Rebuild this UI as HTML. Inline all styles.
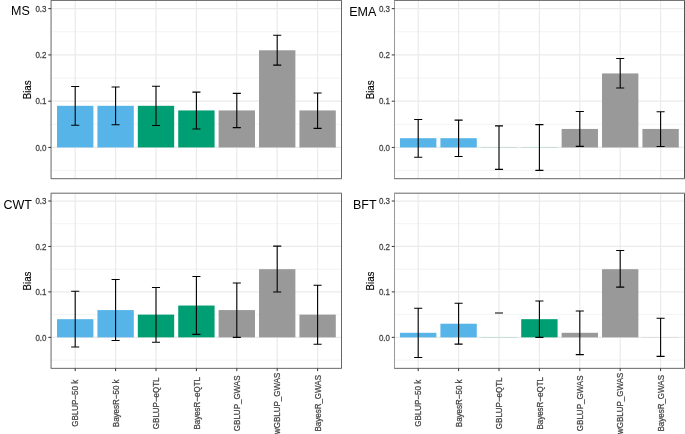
<!DOCTYPE html>
<html><head><meta charset="utf-8"><style>
html,body{margin:0;padding:0;background:#fff;}
svg{display:block;will-change:transform;}
text{font-family:"Liberation Sans",sans-serif;}
.ax{font-size:8.7px;fill:#444;stroke:#444;stroke-width:0.25px;}
.ti{font-size:10.2px;fill:#000;stroke:#000;stroke-width:0.15px;}
.tag{font-size:12.5px;fill:#000;}
</style></head><body>
<svg width="685" height="434" viewBox="0 0 685 434">
<defs><clipPath id="cMS"><rect x="51.06" y="0.4" width="290.44" height="178.3"/></clipPath><clipPath id="cEMA"><rect x="394.5" y="0.4" width="290" height="178.3"/></clipPath><clipPath id="cCWT"><rect x="51.06" y="193.2" width="290.44" height="175.15"/></clipPath><clipPath id="cBFT"><rect x="394.5" y="193.2" width="290" height="175.15"/></clipPath></defs>
<rect width="685" height="434" fill="#fff"/>
<g clip-path="url(#cMS)">
<line x1="51.06" x2="341.5" y1="170.58" y2="170.58" stroke="#EBEBEB" stroke-width="0.62"/>
<line x1="51.06" x2="341.5" y1="124.31" y2="124.31" stroke="#EBEBEB" stroke-width="0.62"/>
<line x1="51.06" x2="341.5" y1="78.04" y2="78.04" stroke="#EBEBEB" stroke-width="0.62"/>
<line x1="51.06" x2="341.5" y1="31.77" y2="31.77" stroke="#EBEBEB" stroke-width="0.62"/>
<line x1="51.06" x2="341.5" y1="147.45" y2="147.45" stroke="#EBEBEB" stroke-width="1.25"/>
<line x1="51.06" x2="341.5" y1="101.18" y2="101.18" stroke="#EBEBEB" stroke-width="1.25"/>
<line x1="51.06" x2="341.5" y1="54.91" y2="54.91" stroke="#EBEBEB" stroke-width="1.25"/>
<line x1="51.06" x2="341.5" y1="8.64" y2="8.64" stroke="#EBEBEB" stroke-width="1.25"/>
<line x1="75.2" x2="75.2" y1="0.4" y2="178.7" stroke="#EBEBEB" stroke-width="1.25"/>
<line x1="115.6" x2="115.6" y1="0.4" y2="178.7" stroke="#EBEBEB" stroke-width="1.25"/>
<line x1="156" x2="156" y1="0.4" y2="178.7" stroke="#EBEBEB" stroke-width="1.25"/>
<line x1="196.4" x2="196.4" y1="0.4" y2="178.7" stroke="#EBEBEB" stroke-width="1.25"/>
<line x1="236.8" x2="236.8" y1="0.4" y2="178.7" stroke="#EBEBEB" stroke-width="1.25"/>
<line x1="277.2" x2="277.2" y1="0.4" y2="178.7" stroke="#EBEBEB" stroke-width="1.25"/>
<line x1="317.6" x2="317.6" y1="0.4" y2="178.7" stroke="#EBEBEB" stroke-width="1.25"/>
<rect x="57.02" y="105.81" width="36.36" height="41.64" fill="#56B4E9"/>
<rect x="97.42" y="105.81" width="36.36" height="41.64" fill="#56B4E9"/>
<rect x="137.82" y="105.81" width="36.36" height="41.64" fill="#009E73"/>
<rect x="178.22" y="110.43" width="36.36" height="37.02" fill="#009E73"/>
<rect x="218.62" y="110.43" width="36.36" height="37.02" fill="#999999"/>
<rect x="259.02" y="50.28" width="36.36" height="97.17" fill="#999999"/>
<rect x="299.42" y="110.43" width="36.36" height="37.02" fill="#999999"/>
<path d="M71.16 86.47H79.24M75.2 86.47V125.24M71.16 125.24H79.24" stroke="#000" stroke-width="1.1" fill="none"/>
<path d="M111.56 87.07H119.64M115.6 87.07V124.82M111.56 124.82H119.64" stroke="#000" stroke-width="1.1" fill="none"/>
<path d="M151.96 86.28H160.04M156 86.28V125.43M151.96 125.43H160.04" stroke="#000" stroke-width="1.1" fill="none"/>
<path d="M192.36 92.16H200.44M196.4 92.16V129.03M192.36 129.03H200.44" stroke="#000" stroke-width="1.1" fill="none"/>
<path d="M232.76 93.36H240.84M236.8 93.36V127.6M232.76 127.6H240.84" stroke="#000" stroke-width="1.1" fill="none"/>
<path d="M273.16 35.29H281.24M277.2 35.29V65.09M273.16 65.09H281.24" stroke="#000" stroke-width="1.1" fill="none"/>
<path d="M313.56 92.99H321.64M317.6 92.99V128.34M313.56 128.34H321.64" stroke="#000" stroke-width="1.1" fill="none"/>
</g>
<line x1="50.69" x2="341.88" y1="0.4" y2="0.4" stroke="#333" stroke-width="0.75"/>
<line x1="50.69" x2="341.88" y1="178.7" y2="178.7" stroke="#333" stroke-width="0.75"/>
<line x1="51.06" x2="51.06" y1="0.78" y2="178.32" stroke="#333" stroke-width="0.75"/>
<line x1="341.5" x2="341.5" y1="0.78" y2="178.32" stroke="#333" stroke-width="0.75"/>
<line x1="48.31" x2="51.06" y1="147.45" y2="147.45" stroke="#333333" stroke-width="1.0"/>
<text transform="translate(46.5,151) scale(0.92,1)" text-anchor="end" class="ax">0.0</text>
<line x1="48.31" x2="51.06" y1="101.18" y2="101.18" stroke="#333333" stroke-width="1.0"/>
<text transform="translate(46.5,104) scale(0.92,1)" text-anchor="end" class="ax">0.1</text>
<line x1="48.31" x2="51.06" y1="54.91" y2="54.91" stroke="#333333" stroke-width="1.0"/>
<text transform="translate(46.5,58) scale(0.92,1)" text-anchor="end" class="ax">0.2</text>
<line x1="48.31" x2="51.06" y1="8.64" y2="8.64" stroke="#333333" stroke-width="1.0"/>
<text transform="translate(46.5,12) scale(0.92,1)" text-anchor="end" class="ax">0.3</text>
<text transform="translate(30.66,89.85) rotate(-90) scale(0.96,1)" text-anchor="middle" class="ti">Bias</text>
<text x="11" y="14.85" class="tag">MS</text>
<g clip-path="url(#cEMA)">
<line x1="394.5" x2="684.5" y1="170.58" y2="170.58" stroke="#EBEBEB" stroke-width="0.62"/>
<line x1="394.5" x2="684.5" y1="124.31" y2="124.31" stroke="#EBEBEB" stroke-width="0.62"/>
<line x1="394.5" x2="684.5" y1="78.04" y2="78.04" stroke="#EBEBEB" stroke-width="0.62"/>
<line x1="394.5" x2="684.5" y1="31.77" y2="31.77" stroke="#EBEBEB" stroke-width="0.62"/>
<line x1="394.5" x2="684.5" y1="147.45" y2="147.45" stroke="#EBEBEB" stroke-width="1.25"/>
<line x1="394.5" x2="684.5" y1="101.18" y2="101.18" stroke="#EBEBEB" stroke-width="1.25"/>
<line x1="394.5" x2="684.5" y1="54.91" y2="54.91" stroke="#EBEBEB" stroke-width="1.25"/>
<line x1="394.5" x2="684.5" y1="8.64" y2="8.64" stroke="#EBEBEB" stroke-width="1.25"/>
<line x1="418.2" x2="418.2" y1="0.4" y2="178.7" stroke="#EBEBEB" stroke-width="1.25"/>
<line x1="458.6" x2="458.6" y1="0.4" y2="178.7" stroke="#EBEBEB" stroke-width="1.25"/>
<line x1="499" x2="499" y1="0.4" y2="178.7" stroke="#EBEBEB" stroke-width="1.25"/>
<line x1="539.4" x2="539.4" y1="0.4" y2="178.7" stroke="#EBEBEB" stroke-width="1.25"/>
<line x1="579.8" x2="579.8" y1="0.4" y2="178.7" stroke="#EBEBEB" stroke-width="1.25"/>
<line x1="620.2" x2="620.2" y1="0.4" y2="178.7" stroke="#EBEBEB" stroke-width="1.25"/>
<line x1="660.6" x2="660.6" y1="0.4" y2="178.7" stroke="#EBEBEB" stroke-width="1.25"/>
<rect x="400.02" y="138.2" width="36.36" height="9.25" fill="#56B4E9"/>
<rect x="440.42" y="138.2" width="36.36" height="9.25" fill="#56B4E9"/>
<rect x="480.82" y="147.3" width="36.36" height="0.15" fill="#009E73"/>
<rect x="521.22" y="147.3" width="36.36" height="0.15" fill="#009E73"/>
<rect x="561.62" y="128.94" width="36.36" height="18.51" fill="#999999"/>
<rect x="602.02" y="73.42" width="36.36" height="74.03" fill="#999999"/>
<rect x="642.42" y="128.94" width="36.36" height="18.51" fill="#999999"/>
<path d="M414.16 119.5H422.24M418.2 119.5V157.26M414.16 157.26H422.24" stroke="#000" stroke-width="1.1" fill="none"/>
<path d="M454.56 120.15H462.64M458.6 120.15V156.47M454.56 156.47H462.64" stroke="#000" stroke-width="1.1" fill="none"/>
<path d="M494.96 125.84H503.04M499 125.84V169.38M494.96 169.38H503.04" stroke="#000" stroke-width="1.1" fill="none"/>
<path d="M535.36 124.59H543.44M539.4 124.59V170.35M535.36 170.35H543.44" stroke="#000" stroke-width="1.1" fill="none"/>
<path d="M575.76 111.5H583.84M579.8 111.5V146.34M575.76 146.34H583.84" stroke="#000" stroke-width="1.1" fill="none"/>
<path d="M616.16 58.43H624.24M620.2 58.43V88.04M616.16 88.04H624.24" stroke="#000" stroke-width="1.1" fill="none"/>
<path d="M656.56 111.68H664.64M660.6 111.68V146.52M656.56 146.52H664.64" stroke="#000" stroke-width="1.1" fill="none"/>
</g>
<line x1="394.12" x2="684.88" y1="0.4" y2="0.4" stroke="#333" stroke-width="0.75"/>
<line x1="394.12" x2="684.88" y1="178.7" y2="178.7" stroke="#333" stroke-width="0.75"/>
<line x1="394.5" x2="394.5" y1="0.78" y2="178.32" stroke="#777" stroke-width="0.75"/>
<line x1="684.5" x2="684.5" y1="0.78" y2="178.32" stroke="#1a1a1a" stroke-width="0.75"/>
<line x1="391.75" x2="394.5" y1="147.45" y2="147.45" stroke="#333333" stroke-width="1.0"/>
<text transform="translate(390,151) scale(0.92,1)" text-anchor="end" class="ax">0.0</text>
<line x1="391.75" x2="394.5" y1="101.18" y2="101.18" stroke="#333333" stroke-width="1.0"/>
<text transform="translate(390,104) scale(0.92,1)" text-anchor="end" class="ax">0.1</text>
<line x1="391.75" x2="394.5" y1="54.91" y2="54.91" stroke="#333333" stroke-width="1.0"/>
<text transform="translate(390,58) scale(0.92,1)" text-anchor="end" class="ax">0.2</text>
<line x1="391.75" x2="394.5" y1="8.64" y2="8.64" stroke="#333333" stroke-width="1.0"/>
<text transform="translate(390,12) scale(0.92,1)" text-anchor="end" class="ax">0.3</text>
<text transform="translate(374.1,89.85) rotate(-90) scale(0.96,1)" text-anchor="middle" class="ti">Bias</text>
<text x="349.2" y="15.6" class="tag">EMA</text>
<g clip-path="url(#cCWT)">
<line x1="51.06" x2="341.5" y1="360.08" y2="360.08" stroke="#EBEBEB" stroke-width="0.62"/>
<line x1="51.06" x2="341.5" y1="314.62" y2="314.62" stroke="#EBEBEB" stroke-width="0.62"/>
<line x1="51.06" x2="341.5" y1="269.18" y2="269.18" stroke="#EBEBEB" stroke-width="0.62"/>
<line x1="51.06" x2="341.5" y1="223.73" y2="223.73" stroke="#EBEBEB" stroke-width="0.62"/>
<line x1="51.06" x2="341.5" y1="337.35" y2="337.35" stroke="#EBEBEB" stroke-width="1.25"/>
<line x1="51.06" x2="341.5" y1="291.9" y2="291.9" stroke="#EBEBEB" stroke-width="1.25"/>
<line x1="51.06" x2="341.5" y1="246.45" y2="246.45" stroke="#EBEBEB" stroke-width="1.25"/>
<line x1="51.06" x2="341.5" y1="201" y2="201" stroke="#EBEBEB" stroke-width="1.25"/>
<line x1="75.2" x2="75.2" y1="193.2" y2="368.35" stroke="#EBEBEB" stroke-width="1.25"/>
<line x1="115.6" x2="115.6" y1="193.2" y2="368.35" stroke="#EBEBEB" stroke-width="1.25"/>
<line x1="156" x2="156" y1="193.2" y2="368.35" stroke="#EBEBEB" stroke-width="1.25"/>
<line x1="196.4" x2="196.4" y1="193.2" y2="368.35" stroke="#EBEBEB" stroke-width="1.25"/>
<line x1="236.8" x2="236.8" y1="193.2" y2="368.35" stroke="#EBEBEB" stroke-width="1.25"/>
<line x1="277.2" x2="277.2" y1="193.2" y2="368.35" stroke="#EBEBEB" stroke-width="1.25"/>
<line x1="317.6" x2="317.6" y1="193.2" y2="368.35" stroke="#EBEBEB" stroke-width="1.25"/>
<rect x="57.02" y="319.17" width="36.36" height="18.18" fill="#56B4E9"/>
<rect x="97.42" y="310.08" width="36.36" height="27.27" fill="#56B4E9"/>
<rect x="137.82" y="314.62" width="36.36" height="22.73" fill="#009E73"/>
<rect x="178.22" y="305.54" width="36.36" height="31.81" fill="#009E73"/>
<rect x="218.62" y="310.08" width="36.36" height="27.27" fill="#999999"/>
<rect x="259.02" y="269.18" width="36.36" height="68.18" fill="#999999"/>
<rect x="299.42" y="314.62" width="36.36" height="22.73" fill="#999999"/>
<path d="M71.16 291.31H79.24M75.2 291.31V346.94M71.16 346.94H79.24" stroke="#000" stroke-width="1.1" fill="none"/>
<path d="M111.56 279.45H119.64M115.6 279.45V340.44M111.56 340.44H119.64" stroke="#000" stroke-width="1.1" fill="none"/>
<path d="M151.96 287.45H160.04M156 287.45V342.26M151.96 342.26H160.04" stroke="#000" stroke-width="1.1" fill="none"/>
<path d="M192.36 276.54H200.44M196.4 276.54V334.35M192.36 334.35H200.44" stroke="#000" stroke-width="1.1" fill="none"/>
<path d="M232.76 282.95H240.84M236.8 282.95V337.35M232.76 337.35H240.84" stroke="#000" stroke-width="1.1" fill="none"/>
<path d="M273.16 246.13H281.24M277.2 246.13V292.04M273.16 292.04H281.24" stroke="#000" stroke-width="1.1" fill="none"/>
<path d="M313.56 285.22H321.64M317.6 285.22V344.26M313.56 344.26H321.64" stroke="#000" stroke-width="1.1" fill="none"/>
</g>
<line x1="50.69" x2="341.88" y1="193.2" y2="193.2" stroke="#333" stroke-width="0.75"/>
<line x1="50.69" x2="341.88" y1="368.35" y2="368.35" stroke="#333" stroke-width="0.75"/>
<line x1="51.06" x2="51.06" y1="193.57" y2="367.98" stroke="#333" stroke-width="0.75"/>
<line x1="341.5" x2="341.5" y1="193.57" y2="367.98" stroke="#333" stroke-width="0.75"/>
<line x1="48.31" x2="51.06" y1="337.35" y2="337.35" stroke="#333333" stroke-width="1.0"/>
<text transform="translate(46.5,341) scale(0.92,1)" text-anchor="end" class="ax">0.0</text>
<line x1="48.31" x2="51.06" y1="291.9" y2="291.9" stroke="#333333" stroke-width="1.0"/>
<text transform="translate(46.5,295) scale(0.92,1)" text-anchor="end" class="ax">0.1</text>
<line x1="48.31" x2="51.06" y1="246.45" y2="246.45" stroke="#333333" stroke-width="1.0"/>
<text transform="translate(46.5,250) scale(0.92,1)" text-anchor="end" class="ax">0.2</text>
<line x1="48.31" x2="51.06" y1="201" y2="201" stroke="#333333" stroke-width="1.0"/>
<text transform="translate(46.5,204) scale(0.92,1)" text-anchor="end" class="ax">0.3</text>
<line x1="75.2" x2="75.2" y1="368.35" y2="371.1" stroke="#333333" stroke-width="1.0"/>
<text transform="translate(78.3,403.3) rotate(-90) scale(0.92,1)" text-anchor="middle" class="ax">GBLUP−50 k</text>
<line x1="115.6" x2="115.6" y1="368.35" y2="371.1" stroke="#333333" stroke-width="1.0"/>
<text transform="translate(118.7,403.3) rotate(-90) scale(0.92,1)" text-anchor="middle" class="ax">BayesR−50 k</text>
<line x1="156" x2="156" y1="368.35" y2="371.1" stroke="#333333" stroke-width="1.0"/>
<text transform="translate(159.1,403.3) rotate(-90) scale(0.92,1)" text-anchor="middle" class="ax">GBLUP−eQTL</text>
<line x1="196.4" x2="196.4" y1="368.35" y2="371.1" stroke="#333333" stroke-width="1.0"/>
<text transform="translate(199.5,403.3) rotate(-90) scale(0.92,1)" text-anchor="middle" class="ax">BayesR−eQTL</text>
<line x1="236.8" x2="236.8" y1="368.35" y2="371.1" stroke="#333333" stroke-width="1.0"/>
<text transform="translate(239.9,403.3) rotate(-90) scale(0.92,1)" text-anchor="middle" class="ax">GBLUP_GWAS</text>
<line x1="277.2" x2="277.2" y1="368.35" y2="371.1" stroke="#333333" stroke-width="1.0"/>
<text transform="translate(280.3,403.3) rotate(-90) scale(0.92,1)" text-anchor="middle" class="ax">wGBLUP_GWAS</text>
<line x1="317.6" x2="317.6" y1="368.35" y2="371.1" stroke="#333333" stroke-width="1.0"/>
<text transform="translate(320.7,403.3) rotate(-90) scale(0.92,1)" text-anchor="middle" class="ax">BayesR_GWAS</text>
<text transform="translate(30.66,281.05) rotate(-90) scale(0.96,1)" text-anchor="middle" class="ti">Bias</text>
<text x="3.5" y="209" class="tag">CWT</text>
<g clip-path="url(#cBFT)">
<line x1="394.5" x2="684.5" y1="360.08" y2="360.08" stroke="#EBEBEB" stroke-width="0.62"/>
<line x1="394.5" x2="684.5" y1="314.62" y2="314.62" stroke="#EBEBEB" stroke-width="0.62"/>
<line x1="394.5" x2="684.5" y1="269.18" y2="269.18" stroke="#EBEBEB" stroke-width="0.62"/>
<line x1="394.5" x2="684.5" y1="223.73" y2="223.73" stroke="#EBEBEB" stroke-width="0.62"/>
<line x1="394.5" x2="684.5" y1="337.35" y2="337.35" stroke="#EBEBEB" stroke-width="1.25"/>
<line x1="394.5" x2="684.5" y1="291.9" y2="291.9" stroke="#EBEBEB" stroke-width="1.25"/>
<line x1="394.5" x2="684.5" y1="246.45" y2="246.45" stroke="#EBEBEB" stroke-width="1.25"/>
<line x1="394.5" x2="684.5" y1="201" y2="201" stroke="#EBEBEB" stroke-width="1.25"/>
<line x1="418.2" x2="418.2" y1="193.2" y2="368.35" stroke="#EBEBEB" stroke-width="1.25"/>
<line x1="458.6" x2="458.6" y1="193.2" y2="368.35" stroke="#EBEBEB" stroke-width="1.25"/>
<line x1="499" x2="499" y1="193.2" y2="368.35" stroke="#EBEBEB" stroke-width="1.25"/>
<line x1="539.4" x2="539.4" y1="193.2" y2="368.35" stroke="#EBEBEB" stroke-width="1.25"/>
<line x1="579.8" x2="579.8" y1="193.2" y2="368.35" stroke="#EBEBEB" stroke-width="1.25"/>
<line x1="620.2" x2="620.2" y1="193.2" y2="368.35" stroke="#EBEBEB" stroke-width="1.25"/>
<line x1="660.6" x2="660.6" y1="193.2" y2="368.35" stroke="#EBEBEB" stroke-width="1.25"/>
<rect x="400.02" y="332.81" width="36.36" height="4.55" fill="#56B4E9"/>
<rect x="440.42" y="323.72" width="36.36" height="13.63" fill="#56B4E9"/>
<rect x="480.82" y="337.2" width="36.36" height="0.15" fill="#009E73"/>
<rect x="521.22" y="319.17" width="36.36" height="18.18" fill="#009E73"/>
<rect x="561.62" y="332.81" width="36.36" height="4.55" fill="#999999"/>
<rect x="602.02" y="269.18" width="36.36" height="68.18" fill="#999999"/>
<rect x="642.42" y="337.2" width="36.36" height="0.15" fill="#999999"/>
<path d="M414.16 308.26H422.24M418.2 308.26V357.44M414.16 357.44H422.24" stroke="#000" stroke-width="1.1" fill="none"/>
<path d="M454.56 303.26H462.64M458.6 303.26V344.17M454.56 344.17H462.64" stroke="#000" stroke-width="1.1" fill="none"/>
<path d="M494.96 313.03H503.04M499 313.03V313.03M494.96 313.03H503.04" stroke="#000" stroke-width="1.1" fill="none"/>
<path d="M535.36 300.99H543.44M539.4 300.99V337.35M535.36 337.35H543.44" stroke="#000" stroke-width="1.1" fill="none"/>
<path d="M575.76 310.99H583.84M579.8 310.99V354.62M575.76 354.62H583.84" stroke="#000" stroke-width="1.1" fill="none"/>
<path d="M616.16 250.54H624.24M620.2 250.54V287.13M616.16 287.13H624.24" stroke="#000" stroke-width="1.1" fill="none"/>
<path d="M656.56 318.26H664.64M660.6 318.26V356.35M656.56 356.35H664.64" stroke="#000" stroke-width="1.1" fill="none"/>
</g>
<line x1="394.12" x2="684.88" y1="193.2" y2="193.2" stroke="#333" stroke-width="0.75"/>
<line x1="394.12" x2="684.88" y1="368.35" y2="368.35" stroke="#333" stroke-width="0.75"/>
<line x1="394.5" x2="394.5" y1="193.57" y2="367.98" stroke="#777" stroke-width="0.75"/>
<line x1="684.5" x2="684.5" y1="193.57" y2="367.98" stroke="#1a1a1a" stroke-width="0.75"/>
<line x1="391.75" x2="394.5" y1="337.35" y2="337.35" stroke="#333333" stroke-width="1.0"/>
<text transform="translate(390,341) scale(0.92,1)" text-anchor="end" class="ax">0.0</text>
<line x1="391.75" x2="394.5" y1="291.9" y2="291.9" stroke="#333333" stroke-width="1.0"/>
<text transform="translate(390,295) scale(0.92,1)" text-anchor="end" class="ax">0.1</text>
<line x1="391.75" x2="394.5" y1="246.45" y2="246.45" stroke="#333333" stroke-width="1.0"/>
<text transform="translate(390,250) scale(0.92,1)" text-anchor="end" class="ax">0.2</text>
<line x1="391.75" x2="394.5" y1="201" y2="201" stroke="#333333" stroke-width="1.0"/>
<text transform="translate(390,204) scale(0.92,1)" text-anchor="end" class="ax">0.3</text>
<line x1="418.2" x2="418.2" y1="368.35" y2="371.1" stroke="#333333" stroke-width="1.0"/>
<text transform="translate(421.3,403.3) rotate(-90) scale(0.92,1)" text-anchor="middle" class="ax">GBLUP−50 k</text>
<line x1="458.6" x2="458.6" y1="368.35" y2="371.1" stroke="#333333" stroke-width="1.0"/>
<text transform="translate(461.7,403.3) rotate(-90) scale(0.92,1)" text-anchor="middle" class="ax">BayesR−50 k</text>
<line x1="499" x2="499" y1="368.35" y2="371.1" stroke="#333333" stroke-width="1.0"/>
<text transform="translate(502.1,403.3) rotate(-90) scale(0.92,1)" text-anchor="middle" class="ax">GBLUP−eQTL</text>
<line x1="539.4" x2="539.4" y1="368.35" y2="371.1" stroke="#333333" stroke-width="1.0"/>
<text transform="translate(542.5,403.3) rotate(-90) scale(0.92,1)" text-anchor="middle" class="ax">BayesR−eQTL</text>
<line x1="579.8" x2="579.8" y1="368.35" y2="371.1" stroke="#333333" stroke-width="1.0"/>
<text transform="translate(582.9,403.3) rotate(-90) scale(0.92,1)" text-anchor="middle" class="ax">GBLUP_GWAS</text>
<line x1="620.2" x2="620.2" y1="368.35" y2="371.1" stroke="#333333" stroke-width="1.0"/>
<text transform="translate(623.3,403.3) rotate(-90) scale(0.92,1)" text-anchor="middle" class="ax">wGBLUP_GWAS</text>
<line x1="660.6" x2="660.6" y1="368.35" y2="371.1" stroke="#333333" stroke-width="1.0"/>
<text transform="translate(663.7,403.3) rotate(-90) scale(0.92,1)" text-anchor="middle" class="ax">BayesR_GWAS</text>
<text transform="translate(374.1,281.05) rotate(-90) scale(0.96,1)" text-anchor="middle" class="ti">Bias</text>
<text x="353" y="209" class="tag">BFT</text>
</svg>
</body></html>
